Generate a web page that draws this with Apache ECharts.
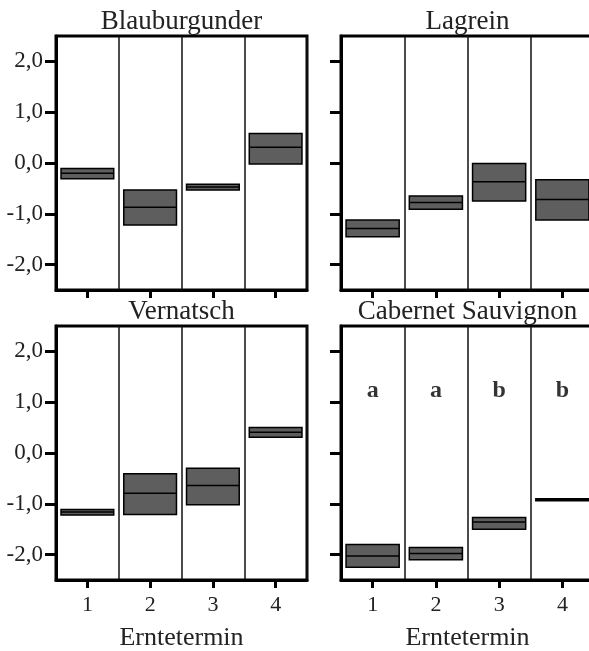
<!DOCTYPE html>
<html>
<head>
<meta charset="utf-8">
<script src="https://cdn.jsdelivr.net/npm/echarts@6/dist/echarts.min.js"></script>
<style>
  html, body { margin: 0; padding: 0; background: #fff; }
  #chart { width: 589px; height: 651px; }
</style>
</head>
<body>
<div id="chart"></div>
<script>
// Erntetermin 1..4
var categories = ['1', '2', '3', '4']
var yTickValues = [-2, -1, 0, 1, 2]
var panelTitles = ['Blauburgunder', 'Lagrein', 'Vernatsch', 'Cabernet Sauvignon']

// box: low / median / high
var blauLow = [-0.31, -1.22, -0.53, -0.02]
var blauMed = [-0.20, -0.87, -0.47, 0.31]
var blauHigh = [-0.11, -0.53, -0.42, 0.58]

var lagLow = [-1.45, -0.91, -0.75, -1.12]
var lagMed = [-1.29, -0.78, -0.37, -0.72]
var lagHigh = [-1.12, -0.65, -0.01, -0.33]

var vernLow = [-1.22, -1.21, -1.02, 0.31]
var vernMed = [-1.16, -0.79, -0.64, 0.41]
var vernHigh = [-1.11, -0.41, -0.30, 0.50]

var cabLow = [-2.25, -2.10, -1.50, -0.94]
var cabMed = [-2.03, -1.98, -1.36, -0.92]
var cabHigh = [-1.80, -1.86, -1.27, -0.90]

// Signifikanz-Buchstaben (nur Cabernet Sauvignon)
var cabLetters = ['a', 'a', 'b', 'b']
var letterLevel = 1.22

var FONT = 'Liberation Serif'

function boxData(low, med, high) {
  return categories.map(function(c, i) {
    return [i, low[i], med[i], high[i]]
  })
}

function renderBox(params, api) {
  var x = api.value(0)
  var lo = api.coord([x, api.value(1)])
  var md = api.coord([x, api.value(2)])
  var hi = api.coord([x, api.value(3)])
  var w = api.size([1, 0])[0] * 0.84
  return {
    type: 'group',
    children: [
      {
        type: 'rect',
        shape: { x: lo[0] - w / 2, y: hi[1], width: w, height: lo[1] - hi[1] },
        style: { fill: '#5e5e5e', stroke: '#000', lineWidth: 1.5 }
      },
      {
        type: 'line',
        shape: { x1: lo[0] - w / 2, y1: md[1], x2: lo[0] + w / 2, y2: md[1] },
        style: { stroke: '#000', lineWidth: 1.5 }
      }
    ]
  }
}

var grids = [
  { left: 56, top: 36, width: 251, height: 254 },
  { left: 341, top: 36, width: 253, height: 254 },
  { left: 56, top: 326, width: 251, height: 254 },
  { left: 341, top: 326, width: 253, height: 254 }
]

var chart = echarts.init(document.getElementById('chart'))

var xAxes = []
var yAxes = []
grids.forEach(function(g, i) {
  g.show = true
  g.borderColor = '#000'
  g.borderWidth = 3
  g.backgroundColor = 'transparent'
  g.containLabel = false
  g.outerBoundsMode = 'none'
  var bottomRow = i >= 2
  xAxes.push({
    type: 'category',
    gridIndex: i,
    data: categories,
    boundaryGap: true,
    name: bottomRow ? 'Erntetermin' : '',
    nameLocation: 'middle',
    nameGap: 45,
    nameTextStyle: { fontFamily: FONT, fontSize: 26, color: '#222' },
    axisLine: { onZero: false, lineStyle: { color: '#000', width: 3 } },
    axisTick: { show: true, alignWithLabel: true, length: 8, lineStyle: { color: '#000', width: 3 } },
    axisLabel: { show: bottomRow, margin: 14, fontFamily: FONT, fontSize: 22, color: '#222' },
    splitLine: { show: true, lineStyle: { color: '#111', width: 1.5 } }
  })
  yAxes.push({
    type: 'value',
    gridIndex: i,
    min: -2.5,
    max: 2.5,
    axisLine: { show: true, onZero: false, lineStyle: { color: '#000', width: 3 } },
    axisTick: { show: true, length: 11, customValues: yTickValues, lineStyle: { color: '#000', width: 3 } },
    axisLabel: {
      show: i % 2 === 0,
      customValues: yTickValues,
      margin: 13,
      fontFamily: FONT,
      fontSize: 23,
      color: '#222',
      formatter: function(v) { return v.toFixed(1).replace('.', ',') }
    },
    splitLine: { show: false }
  })
})

var allData = [
  boxData(blauLow, blauMed, blauHigh),
  boxData(lagLow, lagMed, lagHigh),
  boxData(vernLow, vernMed, vernHigh),
  boxData(cabLow, cabMed, cabHigh)
]

var series = allData.map(function(d, i) {
  return {
    type: 'custom',
    xAxisIndex: i,
    yAxisIndex: i,
    renderItem: renderBox,
    encode: { x: 0, y: [1, 2, 3] },
    data: d,
    silent: true
  }
})

series.push({
  type: 'scatter',
  xAxisIndex: 3,
  yAxisIndex: 3,
  symbolSize: 0,
  silent: true,
  data: cabLetters.map(function(l, i) { return [i, letterLevel] }),
  label: {
    show: true,
    position: 'inside',
    fontFamily: FONT,
    fontSize: 24,
    fontWeight: 'bold',
    color: '#000',
    formatter: function(p) { return cabLetters[p.dataIndex] }
  }
})

var titleGraphics = panelTitles.map(function(t, i) {
  var g = grids[i]
  return {
    type: 'text',
    x: g.left + g.width / 2,
    y: g.top - 14,
    style: {
      text: t,
      fontFamily: FONT,
      fontSize: 27,
      fill: '#222',
      align: 'center',
      verticalAlign: 'middle'
    }
  }
})

chart.setOption({
  backgroundColor: '#fff',
  animation: false,
  grid: grids,
  xAxis: xAxes,
  yAxis: yAxes,
  series: series,
  graphic: titleGraphics
})
</script>
</body>
</html>
